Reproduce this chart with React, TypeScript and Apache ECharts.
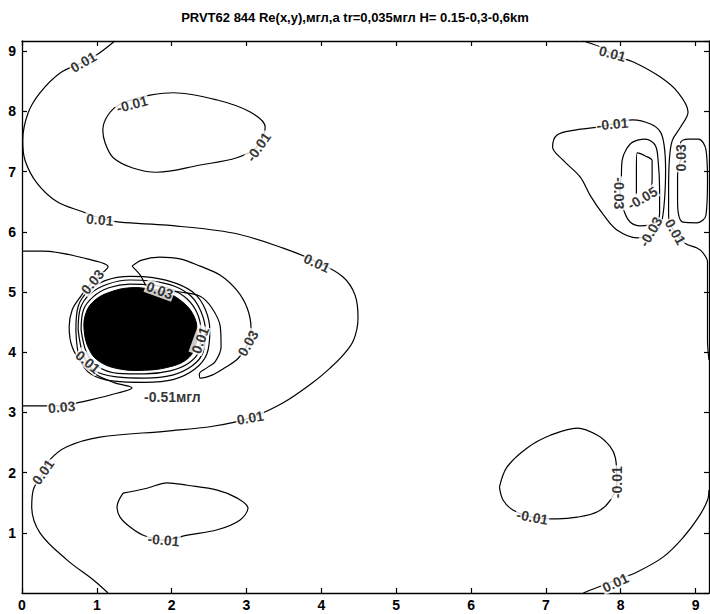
import React, { useEffect, useRef } from "react";
import * as echarts from "echarts";

// Axis extents (km)
const X_MAX = 9.18;
const Y_MAX = 9.17;
const TICKS = [0, 1, 2, 3, 4, 5, 6, 7, 8, 9];

const TITLE = "PRVT62 844 Re(x,y),мгл,a tr=0,035мгл H= 0.15-0,3-0,6km";

// Contour polylines, [x, y] in km
const c01Left: number[][] = [
  [1.24, 9.17], [1.0, 8.94], [0.82, 8.82], [0.51, 8.64], [0.24, 8.31], [0.08, 7.97],
  [0.01, 7.52], [0.04, 7.19], [0.2, 6.81], [0.47, 6.5], [0.82, 6.33], [1.04, 6.23],
  [1.31, 6.16], [1.94, 6.11], [2.82, 5.98], [3.49, 5.73], [3.94, 5.5], [4.29, 5.25],
  [4.45, 4.95], [4.49, 4.57], [4.43, 4.2], [4.29, 3.95], [4.12, 3.74], [3.89, 3.5],
  [3.49, 3.16], [3.05, 2.91], [2.55, 2.77], [1.94, 2.69], [1.04, 2.59], [0.6, 2.43],
  [0.37, 2.21], [0.28, 1.99], [0.15, 1.71], [0.13, 1.43], [0.24, 1.0], [0.6, 0.55],
  [0.95, 0.22], [1.15, 0.0],
];

const cM01Upper: number[][] = [
  [1.71, 8.27], [2.02, 8.31], [2.61, 8.19], [3.05, 7.99], [3.25, 7.74], [3.14, 7.41],
  [2.87, 7.23], [2.38, 7.11], [1.8, 6.99], [1.48, 7.06], [1.22, 7.23], [1.11, 7.48],
  [1.08, 7.69], [1.15, 7.94], [1.31, 8.12], [1.71, 8.27],
];

const c03West: number[][] = [
  [0, 5.68], [0.28, 5.68], [0.87, 5.55], [1.15, 5.42], [1.04, 5.28], [0.88, 5.08],
  [0.78, 4.92], [0.67, 4.7], [0.63, 4.42], [0.67, 4.09], [0.8, 3.82], [1.0, 3.62],
  [1.24, 3.49], [1.47, 3.41], [1.18, 3.29], [0.78, 3.17], [0.53, 3.11], [0.28, 3.11], [0, 3.11],
];

const c03East: number[][] = [
  [1.47, 5.43], [1.6, 5.53], [1.84, 5.58], [2.11, 5.55], [2.38, 5.43], [2.65, 5.28],
  [2.87, 5.03], [3.01, 4.73], [3.06, 4.4], [3.01, 4.12], [2.89, 3.9], [2.71, 3.74],
  [2.54, 3.62], [2.38, 3.57], [2.37, 3.64], [2.47, 3.74], [2.58, 3.84], [2.66, 4.09],
  [2.65, 4.42], [2.54, 4.73], [2.38, 4.93], [2.11, 5.0], [1.84, 5.02], [1.68, 5.08],
  [1.58, 5.28], [1.47, 5.43],
];

// Minimum zone: dense rings packed around the -0.51 low
const lowCore: number[][] = [
  [0.83, 4.37], [0.86, 4.67], [0.98, 4.87], [1.18, 5.0], [1.44, 5.07], [1.71, 5.05],
  [1.95, 4.98], [2.15, 4.83], [2.29, 4.62], [2.34, 4.37], [2.31, 4.07], [2.19, 3.87],
  [1.95, 3.75], [1.64, 3.7], [1.31, 3.72], [1.04, 3.84], [0.9, 4.04],
];
const lowRing1: number[][] = [
  [0.79, 4.37], [0.82, 4.7], [0.95, 4.92], [1.16, 5.07], [1.44, 5.13], [1.72, 5.12],
  [1.99, 5.05], [2.21, 4.88], [2.34, 4.65], [2.39, 4.37], [2.37, 4.04], [2.23, 3.82],
  [1.98, 3.69], [1.64, 3.64], [1.28, 3.65], [1.0, 3.77], [0.86, 4.0], [0.79, 4.37],
];
const lowRing2: number[][] = [
  [0.75, 4.37], [0.78, 4.73], [0.91, 4.97], [1.14, 5.13], [1.44, 5.2], [1.74, 5.18],
  [2.03, 5.1], [2.26, 4.93], [2.39, 4.68], [2.45, 4.37], [2.42, 4.0], [2.27, 3.77],
  [2.01, 3.62], [1.64, 3.57], [1.26, 3.59], [0.96, 3.7], [0.82, 3.95], [0.75, 4.37],
];
const lowRing3: number[][] = [
  [0.72, 4.37], [0.75, 4.76], [0.88, 5.01], [1.11, 5.19], [1.44, 5.26], [1.75, 5.24],
  [2.07, 5.14], [2.31, 4.97], [2.45, 4.71], [2.51, 4.37], [2.47, 3.97], [2.31, 3.72],
  [2.03, 3.55], [1.64, 3.5], [1.23, 3.52], [0.92, 3.64], [0.77, 3.9], [0.72, 4.37],
];

const c01NorthEast: number[][] = [
  [7.5, 9.17], [7.73, 9.07], [7.9, 8.94], [8.17, 8.82], [8.53, 8.57], [8.77, 8.31],
  [8.9, 7.99], [8.8, 7.74], [8.69, 7.52], [8.65, 7.19], [8.64, 6.69], [8.64, 6.28],
  [8.69, 6.06], [8.86, 5.81], [9.02, 5.73], [9.1, 5.65], [9.16, 5.5], [9.16, 4.87],
  [9.16, 4.2], [9.18, 3.87],
];

const cM01East: number[][] = [
  [7.89, 7.79], [7.7, 7.74], [7.39, 7.69], [7.15, 7.61], [7.09, 7.41], [7.23, 7.19],
  [7.46, 6.91], [7.59, 6.61], [7.77, 6.28], [7.95, 6.03], [8.22, 5.9], [8.4, 5.93],
  [8.53, 6.11], [8.58, 6.45], [8.6, 7.03], [8.58, 7.44], [8.53, 7.66], [8.4, 7.79],
  [8.16, 7.86], [7.89, 7.79],
];

const cM03East: number[][] = [
  [8.01, 6.94], [8.02, 7.19], [8.07, 7.36], [8.16, 7.49], [8.33, 7.54], [8.46, 7.44],
  [8.5, 7.19], [8.52, 6.69], [8.52, 6.31], [8.46, 6.15], [8.26, 6.1], [8.13, 6.16],
  [8.05, 6.33], [7.99, 6.64], [8.01, 6.94],
];

const cM05East: number[][] = [
  [8.21, 6.61], [8.21, 7.03], [8.22, 7.31], [8.33, 7.26], [8.42, 7.18], [8.42, 6.89],
  [8.41, 6.69],
];

const c03East2: number[][] = [
  [8.81, 7.23], [8.76, 6.94], [8.76, 6.53], [8.77, 6.31], [8.83, 6.16], [9.02, 6.15],
  [9.14, 6.28], [9.16, 6.86], [9.14, 7.36], [9.04, 7.54], [8.9, 7.54], [8.8, 7.48], [8.81, 7.23],
];

const cM01SouthEast: number[][] = [
  [6.38, 1.76], [6.48, 2.09], [6.75, 2.41], [7.06, 2.62], [7.42, 2.74], [7.69, 2.62],
  [7.86, 2.43], [7.93, 2.24], [7.95, 1.84], [7.86, 1.54], [7.69, 1.35], [7.42, 1.26],
  [7.15, 1.23], [6.82, 1.26], [6.56, 1.38], [6.43, 1.54], [6.38, 1.76],
];

const c01SouthEast: number[][] = [
  [7.5, 0], [7.66, 0.08], [7.95, 0.22], [8.22, 0.35], [8.57, 0.6], [8.84, 0.93],
  [9.04, 1.26], [9.16, 1.54], [9.18, 1.71],
];

const cM01SouthWest: number[][] = [
  [1.35, 1.66], [1.67, 1.74], [1.94, 1.83], [2.21, 1.79], [2.61, 1.71], [2.87, 1.58],
  [3.02, 1.41], [2.91, 1.21], [2.61, 1.05], [2.21, 0.96], [1.89, 0.88], [1.62, 0.96],
  [1.44, 1.1], [1.31, 1.26], [1.27, 1.43], [1.35, 1.66],
];

// Level labels: [x, y, text, rotation in degrees]
const levelLabels: [number, number, string, number][] = [
  [0.82, 8.82, "0.01", 30],
  [1.04, 6.2, "0.01", -5],
  [3.94, 5.48, "0.01", -25],
  [3.05, 2.91, "0.01", 10],
  [0.28, 2.01, "0.01", 55],
  [1.47, 8.12, "-0.01", 15],
  [3.16, 7.41, "-0.01", 55],
  [0.94, 5.17, "0.03", 50],
  [0.53, 3.09, "0.03", 5],
  [1.84, 5.03, "0.03", -20],
  [3.02, 4.15, "0.03", 60],
  [2.38, 4.2, "0.01", 70],
  [0.88, 3.84, "0.01", -40],
  [7.89, 8.96, "0.01", -15],
  [8.73, 6.0, "0.01", -60],
  [7.89, 7.79, "-0.01", 5],
  [8.4, 6.0, "-0.03", 60],
  [7.98, 6.64, "-0.03", -90],
  [8.29, 6.56, "-0.05", 30],
  [8.81, 7.23, "0.03", 90],
  [6.82, 1.26, "-0.01", -10],
  [7.95, 1.84, "-0.01", 90],
  [7.93, 0.17, "0.01", 25],
  [1.89, 0.88, "-0.01", -5],
];

const minLabel: [number, number, string] = [2.01, 3.26, "-0.51мгл"];

const contours: number[][][] = [
  c01Left, cM01Upper, c03West, c03East, lowRing1, lowRing2, lowRing3,
  c01NorthEast, cM01East, cM03East, cM05East, c03East2, cM01SouthEast,
  c01SouthEast, cM01SouthWest,
];

const FONT = "'Liberation Sans', Arial, sans-serif";

function axisCommon(max: number) {
  return {
    type: "value" as const,
    min: 0,
    max,
    interval: 1,
    splitLine: { show: false },
    axisLine: { show: true, onZero: false, lineStyle: { color: "#000", width: 1.3 } },
    axisTick: { show: true, inside: true, length: 5, lineStyle: { color: "#000", width: 1.2 } },
  };
}

export default function App() {
  const ref = useRef<HTMLDivElement>(null);

  useEffect(() => {
    if (!ref.current) return;
    const chart = echarts.init(ref.current, undefined, { renderer: "svg" });

    const tickFmt = (v: number) => (TICKS.includes(v) ? String(v) : "");

    const lineSeries = contours.map((pts) => ({
      type: "line" as const,
      data: pts,
      smooth: 0.35,
      showSymbol: false,
      symbol: "none",
      silent: true,
      lineStyle: { color: "#000", width: 1.2 },
      z: 2,
    }));

    chart.setOption({
      animation: false,
      backgroundColor: "#fff",
      title: {
        text: TITLE,
        left: "center",
        top: 6,
        textStyle: { fontFamily: "'Liberation Sans Narrow', " + FONT, fontWeight: "bold", fontSize: 13, color: "#000" },
      },
      grid: { left: 22, right: 1, top: 41, bottom: 21, containLabel: false },
      xAxis: [
        {
          ...axisCommon(X_MAX),
          position: "bottom",
          axisLabel: {
            show: true, formatter: tickFmt, showMaxLabel: false, margin: 5,
            color: "#000", fontWeight: "bold", fontSize: 14, fontFamily: FONT,
          },
        },
        { ...axisCommon(X_MAX), position: "top", axisLabel: { show: false } },
      ],
      yAxis: [
        {
          ...axisCommon(Y_MAX),
          position: "left",
          axisLabel: {
            show: true, formatter: tickFmt, showMaxLabel: false, showMinLabel: false, margin: 6,
            color: "#000", fontWeight: "bold", fontSize: 14, fontFamily: FONT,
          },
        },
        { ...axisCommon(Y_MAX), position: "right", axisLabel: { show: false } },
      ],
      series: [
        ...lineSeries,
        {
          type: "custom",
          silent: true,
          z: 3,
          data: [0],
          renderItem: (_p: any, api: any) => ({
            type: "polygon",
            shape: { points: lowCore.map((p) => api.coord(p)), smooth: 0.4 },
            style: { fill: "#000", stroke: "#000", lineWidth: 1 },
          }),
        },
        {
          type: "scatter",
          silent: true,
          z: 5,
          symbolSize: 1,
          itemStyle: { color: "rgba(0,0,0,0)" },
          data: levelLabels.map(([x, y, t, r]) => ({
            value: [x, y],
            label: {
              show: true,
              position: "inside",
              formatter: t,
              rotate: r,
              backgroundColor: "#fff",
              padding: [0, 1],
              color: "#000",
              fontWeight: "bold",
              fontSize: 14,
              fontFamily: FONT,
            },
          })),
        },
        {
          type: "scatter",
          silent: true,
          z: 5,
          symbolSize: 1,
          itemStyle: { color: "rgba(0,0,0,0)" },
          data: [
            {
              value: [minLabel[0], minLabel[1]],
              label: {
                show: true, position: "inside", formatter: minLabel[2],
                color: "#000", fontWeight: "bold", fontSize: 14, fontFamily: FONT,
              },
            },
          ],
        },
      ],
    });

    return () => chart.dispose();
  }, []);

  return <div ref={ref} style={{ position: "fixed", left: 0, top: 0, width: 710, height: 614 }} />;
}
